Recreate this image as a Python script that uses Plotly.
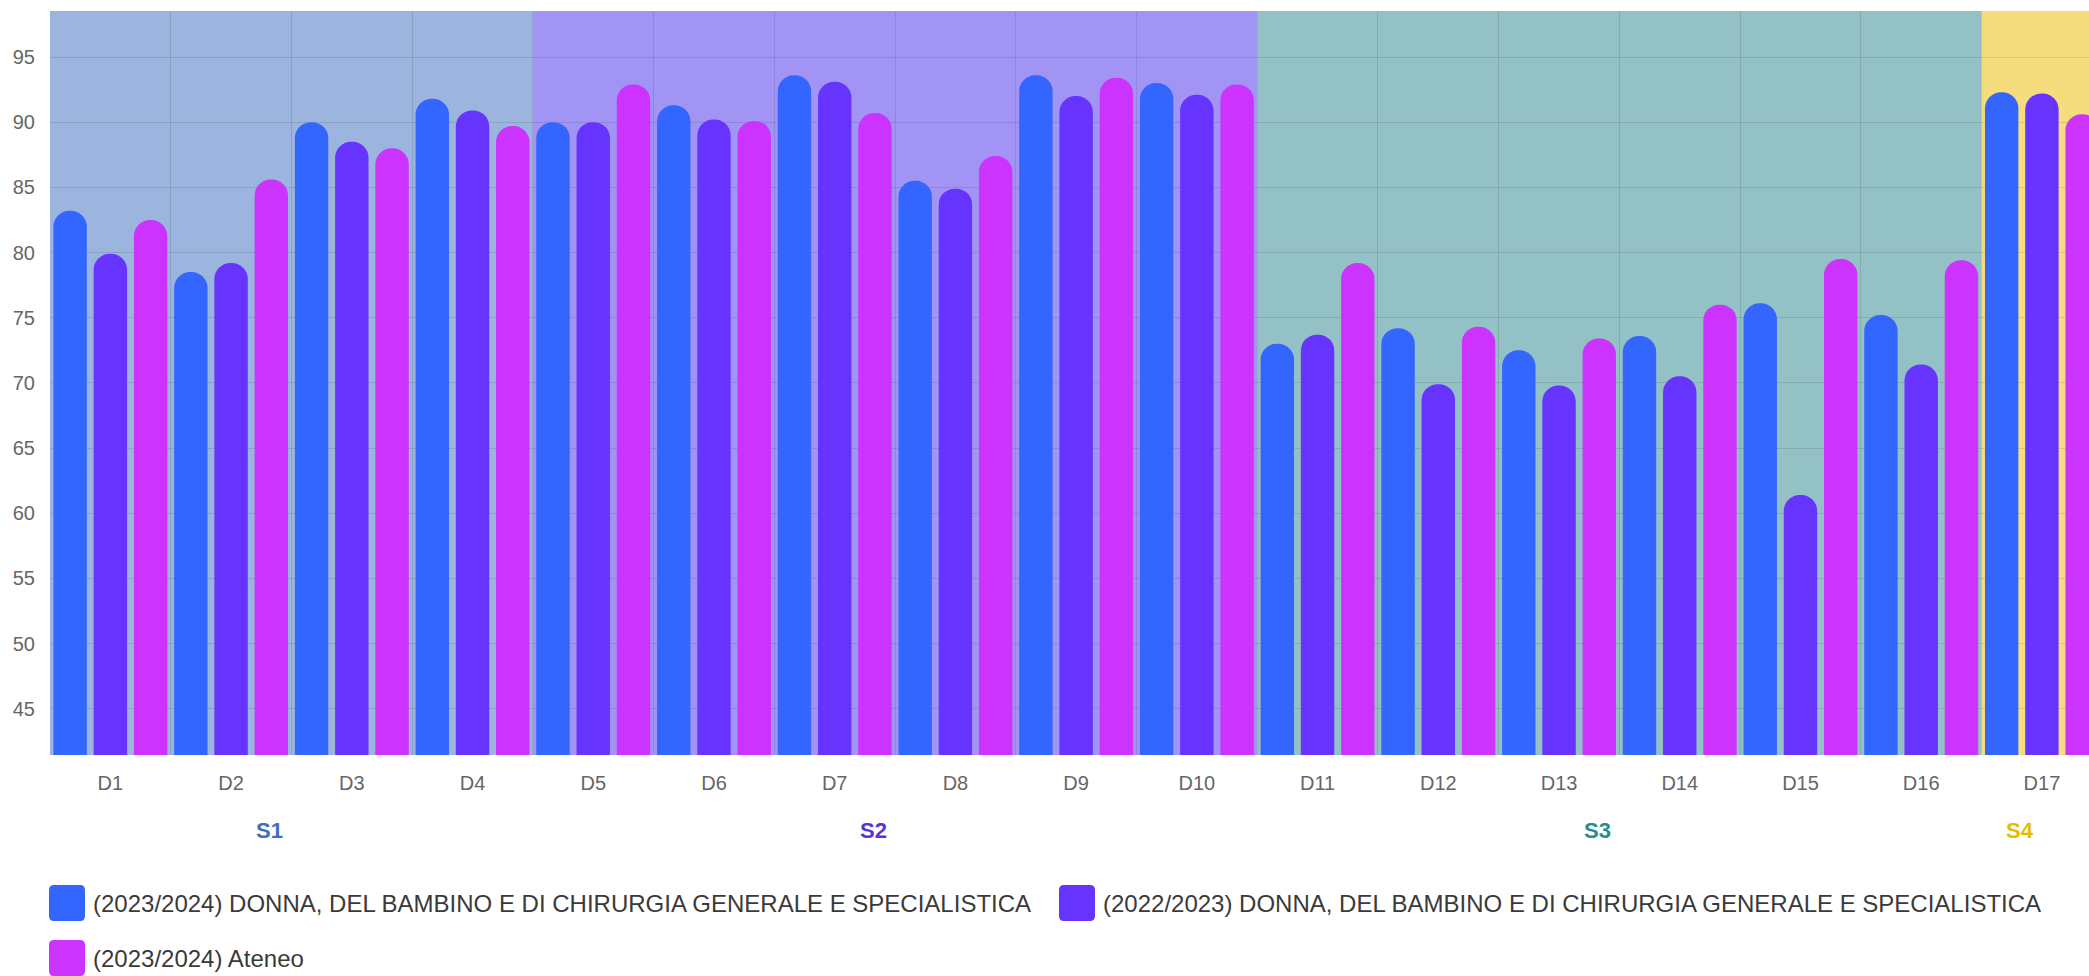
import plotly.graph_objects as go

# ---------------- data ----------------
categories = ["D1", "D2", "D3", "D4", "D5", "D6", "D7", "D8", "D9", "D10",
              "D11", "D12", "D13", "D14", "D15", "D16", "D17"]

dip_2023_2024 = [83.2, 78.5, 90.0, 91.8, 90.0, 91.3, 93.6, 85.5, 93.6, 93.0,
                 73.0, 74.2, 72.5, 73.6, 76.1, 75.2, 92.3]
dip_2022_2023 = [79.9, 79.2, 88.5, 90.9, 90.0, 90.2, 93.1, 84.9, 92.0, 92.1,
                 73.7, 69.9, 69.8, 70.5, 61.4, 71.4, 92.2]
ateneo_2023_2024 = [82.5, 85.6, 88.0, 89.7, 92.9, 90.1, 90.7, 87.4, 93.4, 92.9,
                    79.2, 74.3, 73.4, 76.0, 79.5, 79.4, 90.6]

series_names = [
    "(2023/2024) DONNA, DEL BAMBINO E DI CHIRURGIA GENERALE E SPECIALISTICA",
    "(2022/2023) DONNA, DEL BAMBINO E DI CHIRURGIA GENERALE E SPECIALISTICA",
    "(2023/2024) Ateneo",
]
series_values = [dip_2023_2024, dip_2022_2023, ateneo_2023_2024]
series_colors = ["#3366ff", "#6633ff", "#cc33ff"]

groups = ["S1", "S2", "S3", "S4"]
group_sizes = [4, 6, 6, 1]
group_bg = ["#9bb5de", "#a294f5", "#94c1c6", "#f5dd7e"]
group_label_colors = ["#3d6fc2", "#5533dd", "#2a8c8c", "#e2bd00"]

# ---------------- layout geometry (pixels) ----------------
W, H = 2089, 976
PLOT_L, PLOT_R, PLOT_T, PLOT_B = 50, 2089, 11, 755
FONT = "Liberation Sans, Arial, Helvetica, sans-serif"


def px_x(px):
    return (px - PLOT_L) / (PLOT_R - PLOT_L)


def px_y(py):
    return (PLOT_B - py) / (PLOT_B - PLOT_T)


fig = go.Figure()
for name, vals, col in zip(series_names, series_values, series_colors):
    fig.add_trace(go.Bar(
        x=categories, y=vals, name=name,
        marker=dict(color=col, line=dict(width=0), cornerradius="50%"),
        showlegend=False,
        hovertemplate="%{x}: %{y}<extra>" + name + "</extra>",
    ))

# background bands + group labels
shapes = []
annotations = []
start = 0
for g, n, bg, lc in zip(groups, group_sizes, group_bg, group_label_colors):
    x0 = start - 0.5
    x1 = start + n - 0.5
    shapes.append(dict(type="rect", xref="x", yref="paper", x0=x0, x1=x1,
                       y0=0, y1=1, fillcolor=bg, line=dict(width=0),
                       layer="below"))
    annotations.append(dict(text="<b>" + g + "</b>", xref="x", yref="paper",
                            x=(x0 + x1) / 2 - 0.18, y=px_y(830),
                            xanchor="center", yanchor="middle",
                            showarrow=False,
                            font=dict(family=FONT, size=22, color=lc)))
    start += n

# custom legend (large rounded squares like the original)
legend_slots = [(67, 91, 903), (1077, 1101, 903), (67, 91, 958)]
rr = ("M -18,-13 Q -18,-18 -13,-18 L 13,-18 Q 18,-18 18,-13 L 18,13 "
      "Q 18,18 13,18 L -13,18 Q -18,18 -18,13 Z")
for (bx, tx, ty), name, col in zip(legend_slots, series_names, series_colors):
    shapes.append(dict(type="path", xref="paper", yref="paper",
                       xsizemode="pixel", ysizemode="pixel",
                       xanchor=px_x(bx), yanchor=px_y(ty), path=rr,
                       fillcolor=col, line=dict(width=0)))
    annotations.append(dict(text=name, xref="paper", yref="paper",
                            x=px_x(tx), y=px_y(ty), xanchor="left",
                            yanchor="middle", showarrow=False,
                            font=dict(family=FONT, size=24, color="#3a3a3a")))

fig.update_layout(
    width=W, height=H,
    margin=dict(l=PLOT_L, r=W - PLOT_R, t=PLOT_T, b=H - PLOT_B, pad=0),
    paper_bgcolor="white", plot_bgcolor="white",
    barmode="group", bargap=0.0, bargroupgap=0.17,
    shapes=shapes, annotations=annotations,
    showlegend=False,
    font=dict(family=FONT, color="#666666"),
)
fig.update_xaxes(
    type="category", range=[-0.5, 16.39],
    tickson="boundaries", ticks="", showgrid=True,
    gridcolor="rgba(0,0,0,0.10)", gridwidth=1,
    showline=False, zeroline=False,
    tickfont=dict(family=FONT, size=20, color="#666666"),
    ticklabelstandoff=14,
)
fig.update_yaxes(
    range=[41.45, 98.53], tick0=45, dtick=5, ticks="",
    showgrid=True, gridcolor="rgba(0,0,0,0.10)", gridwidth=1,
    showline=False, zeroline=False,
    tickfont=dict(family=FONT, size=20, color="#666666"),
    ticklabelstandoff=14,
)

fig.write_html("out.html",
               config={"displayModeBar": False},
               post_script="document.body.style.margin='0px';"
                           "document.body.style.overflow='hidden';")
